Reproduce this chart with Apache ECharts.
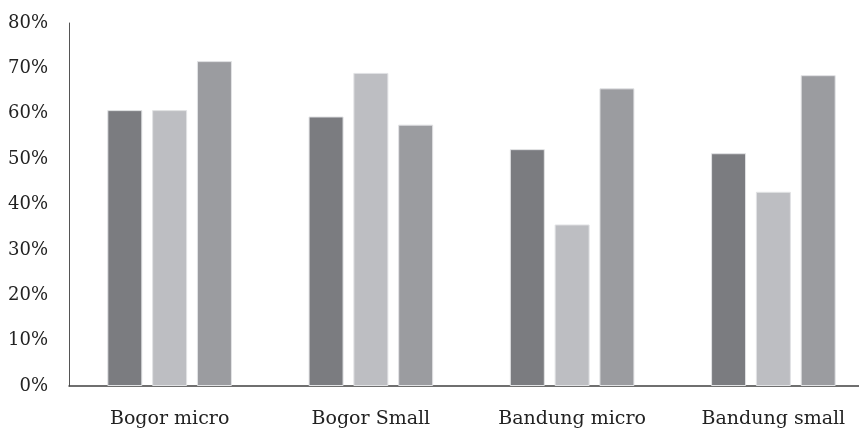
<!DOCTYPE html>
<html><head><meta charset="utf-8">
<script src="https://cdn.jsdelivr.net/npm/echarts@6/dist/echarts.min.js"></script>
<style>html,body{margin:0;padding:0;background:#fff}#c{width:859px;height:430px}</style>
</head><body><div id="c"></div>
<script>
const categories = ['Bogor micro', 'Bogor Small', 'Bandung micro', 'Bandung small'];
const series1 = [60.8, 59.4, 52.2, 51.3];
const series2 = [60.8, 69.0, 35.6, 42.8];
const series3 = [71.6, 57.6, 65.6, 68.5];
const yTicks = [0, 10, 20, 30, 40, 50, 60, 70, 80];

const font = 'DejaVu Serif';
const chart = echarts.init(document.getElementById('c'));
const mk = (name, data, color) => ({
  name, type: 'bar', data, barWidth: 35, barGap: '28%',
  itemStyle: { color, borderColor: '#e2e3e5', borderWidth: 1 }
});
chart.setOption({
  animation: false,
  grid: { left: 69, top: 23, bottom: 44, right: -15, outerBoundsMode: 'none', containLabel: false },
  xAxis: {
    type: 'category', data: categories,
    axisLine: { lineStyle: { color: '#404040', width: 1.5 } },
    axisTick: { show: false },
    axisLabel: { color: '#222', fontFamily: font, fontSize: 19, margin: 24 }
  },
  yAxis: {
    type: 'value', min: 0, max: 80, interval: 10,
    axisLine: { show: true, lineStyle: { color: '#555', width: 1 } },
    axisTick: { show: false },
    splitLine: { show: false },
    axisLabel: { color: '#222', fontFamily: font, fontSize: 18, margin: 21,
      formatter: v => yTicks.includes(v) ? v + '%' : '' }
  },
  series: [
    mk('s1', series1, '#7b7c80'),
    mk('s2', series2, '#bdbec2'),
    mk('s3', series3, '#9b9ca0')
  ]
});
</script></body></html>
